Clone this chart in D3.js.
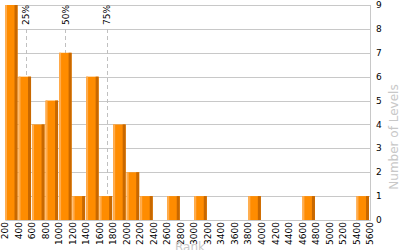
<!DOCTYPE html>
<html>
<head>
<meta charset="utf-8">
<script src="https://cdn.jsdelivr.net/npm/d3@7"></script>
<style>
  body { margin: 0; background: #fff; }
  svg { display: block; font-family: "DejaVu Sans", Verdana, sans-serif; }
</style>
</head>
<body>
<svg id="chart"></svg>
<script>
// histogram bins (lower edge of each 200-wide bin) and number of levels
var binStart = [200, 400, 600, 800, 1000, 1200, 1400, 1600, 1800, 2000, 2200, 2600, 3000, 3800, 4600, 5400];
var counts   = [9, 6, 4, 5, 7, 1, 6, 1, 4, 2, 1, 1, 1, 1, 1, 1];
var binWidth = 200;

var xTicks = d3.range(200, 5601, 200);
var yTicks = [0, 1, 2, 3, 4, 5, 6, 7, 8, 9];

var pctLabels = ["25%", "50%", "75%"];
var pctValues = [506, 1092, 1704];

var width = 400, height = 250;
var plot = { left: 5, right: 370, top: 5, bottom: 220 };

var svg = d3.select("#chart").attr("width", width).attr("height", height);

var x = d3.scaleLinear().domain([200, 5600]).range([plot.left, plot.right]);
var y = d3.scaleLinear().domain([0, 9]).range([plot.bottom, plot.top]);

// grid
svg.append("g").selectAll("line")
    .data(yTicks)
    .enter().append("line")
    .attr("x1", plot.left).attr("x2", plot.right)
    .attr("y1", d => Math.round(y(d)) + 0.5).attr("y2", d => Math.round(y(d)) + 0.5)
    .attr("stroke", "#c8c8c8");

svg.append("line")
    .attr("x1", plot.right + 0.5).attr("x2", plot.right + 0.5)
    .attr("y1", plot.top).attr("y2", plot.bottom + 1)
    .attr("stroke", "#c8c8c8");
svg.append("line")
    .attr("x1", plot.left + 0.5).attr("x2", plot.left + 0.5)
    .attr("y1", plot.top).attr("y2", plot.bottom + 1)
    .attr("stroke", "#dcdcdc");

// percentile markers
var pct = svg.append("g").selectAll("g")
    .data(pctValues)
    .enter().append("g");

pct.append("line")
    .attr("x1", d => Math.round(x(d)) + 0.5).attr("x2", d => Math.round(x(d)) + 0.5)
    .attr("y1", 29).attr("y2", plot.bottom)
    .attr("stroke", "#c0c0c0")
    .attr("stroke-dasharray", "4,3");

pct.append("text")
    .attr("transform", d => `translate(${x(d) + 0.5},${plot.top}) rotate(-90)`)
    .attr("text-anchor", "end")
    .attr("dy", "0.35em")
    .attr("font-size", "9px")
    .attr("fill", "#000")
    .text((d, i) => pctLabels[i]);

// bars
var bars = svg.append("g").selectAll("g")
    .data(binStart)
    .enter().append("g")
    .attr("transform", (d, i) => `translate(${x(d)},${y(counts[i])})`);

var barW = x(binWidth + 200) - x(200) - 1;

bars.append("rect")
    .attr("width", barW)
    .attr("height", (d, i) => plot.bottom - y(counts[i]))
    .attr("fill", "#ff8c00");
bars.append("rect")
    .attr("width", 2)
    .attr("height", (d, i) => plot.bottom - y(counts[i]))
    .attr("fill", "#ffad4f");
bars.append("rect")
    .attr("x", barW - 3)
    .attr("width", 3)
    .attr("height", (d, i) => plot.bottom - y(counts[i]))
    .attr("fill", "#c86800");

// x tick labels
svg.append("g").selectAll("text")
    .data(xTicks)
    .enter().append("text")
    .attr("transform", d => `translate(${x(d)},${plot.bottom + 2}) rotate(-90)`)
    .attr("text-anchor", "end")
    .attr("dy", "0.35em")
    .attr("font-size", "9px")
    .attr("fill", "#000")
    .text(d => d);

// y tick labels
svg.append("g").selectAll("text")
    .data(yTicks)
    .enter().append("text")
    .attr("x", plot.right + 6)
    .attr("y", d => y(d))
    .attr("dy", "0.35em")
    .attr("font-size", "9px")
    .attr("fill", "#000")
    .text(d => d);

// axis titles (partly outside the frame, as in the original)
svg.append("text")
    .attr("x", 190)
    .attr("y", 251)
    .attr("text-anchor", "middle")
    .attr("font-size", "12px")
    .attr("fill", "#c8c8c8")
    .text("Rank");

svg.append("text")
    .attr("transform", "translate(394,137) rotate(-90)")
    .attr("text-anchor", "middle")
    .attr("dy", "0.35em")
    .attr("font-size", "12px")
    .attr("fill", "#c8c8c8")
    .text("Number of Levels");
</script>
</body>
</html>
